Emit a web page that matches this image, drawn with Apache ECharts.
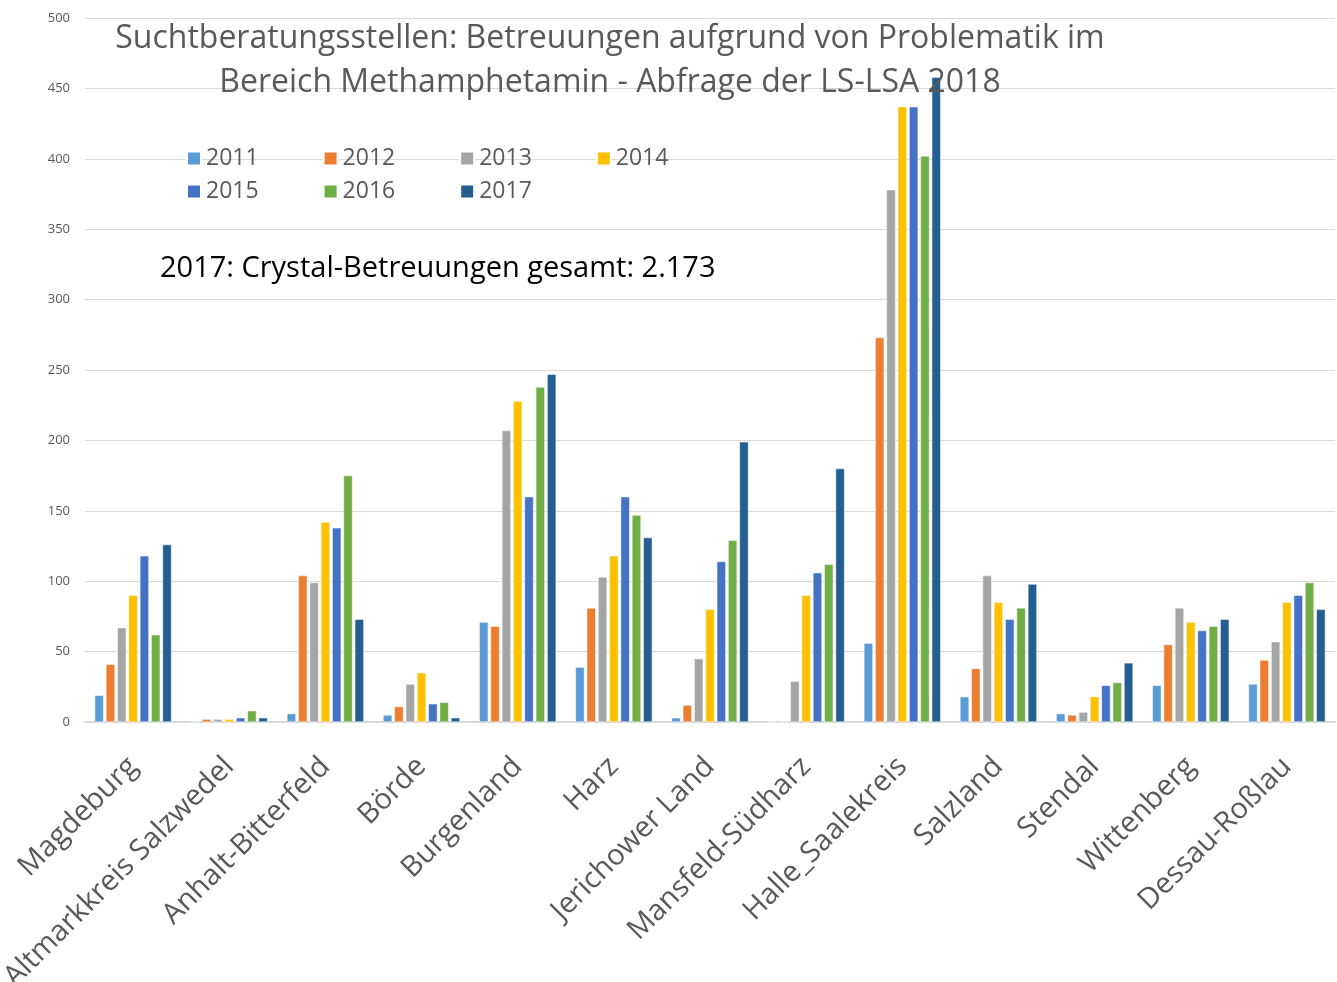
<!DOCTYPE html>
<html>
<head>
<meta charset="utf-8">
<script src="https://cdn.jsdelivr.net/npm/echarts@6/dist/echarts.min.js"></script>
<style>
  html, body { margin: 0; padding: 0; background: #fff; }
  #chart { width: 1337px; height: 982px; }
</style>
</head>
<body>
<div id="chart"></div>
<script>
// Landkreise / kreisfreie Städte
const regions = ['Magdeburg', 'Altmarkkreis Salzwedel', 'Anhalt-Bitterfeld', 'Börde', 'Burgenland', 'Harz',
  'Jerichower Land', 'Mansfeld-Südharz', 'Halle_Saalekreis', 'Salzland', 'Stendal', 'Wittenberg', 'Dessau-Roßlau']

const years = ['2011', '2012', '2013', '2014', '2015', '2016', '2017']

// Betreuungen je Jahr
const v2011 = [19, 0, 6, 5, 71, 39, 3, 0, 56, 18, 6, 26, 27]
const v2012 = [41, 2, 104, 11, 68, 81, 12, 0, 273, 38, 5, 55, 44]
const v2013 = [67, 2, 99, 27, 207, 103, 45, 29, 378, 104, 7, 81, 57]
const v2014 = [90, 2, 142, 35, 228, 118, 80, 90, 437, 85, 18, 71, 85]
const v2015 = [118, 3, 138, 13, 160, 160, 114, 106, 437, 73, 26, 65, 90]
const v2016 = [62, 8, 175, 14, 238, 147, 129, 112, 402, 81, 28, 68, 99]
const v2017 = [126, 3, 73, 3, 247, 131, 199, 180, 458, 98, 42, 73, 80]

const yTicks = [0, 500, 50]  // min, max, interval

const values = [v2011, v2012, v2013, v2014, v2015, v2016, v2017]
const colors = ['#5B9BD5', '#ED7D31', '#A5A5A5', '#FFC000', '#4472C4', '#70AD47', '#255E91']

const font = 'Open Sans'
const grey = '#595959'

let chart = echarts.init(document.getElementById('chart'))

let legendStyle = {
  left: 181,
  itemWidth: 14,
  itemHeight: 14,
  itemGap: 64,
  icon: 'rect',
  textStyle: { fontFamily: font, fontSize: 23, color: grey }
}

let option = {
  animation: false,
  color: colors,
  title: {
    text: 'Suchtberatungsstellen: Betreuungen aufgrund von Problematik im\nBereich Methamphetamin - Abfrage der LS-LSA 2018',
    left: 605,
    top: 12,
    textAlign: 'center',
    textStyle: {
      fontFamily: font,
      fontSize: 32,
      fontWeight: 'normal',
      color: grey,
      lineHeight: 44
    }
  },
  legend: [
    Object.assign({ data: years.slice(0, 4), top: 142 }, legendStyle),
    Object.assign({ data: years.slice(4), top: 175 }, legendStyle)
  ],
  graphic: [{
    type: 'text',
    left: 160,
    top: 254,
    style: {
      text: '2017: Crystal-Betreuungen gesamt: 2.173',
      fontFamily: font,
      fontSize: 29,
      fill: '#000'
    }
  }],
  grid: {
    left: 85,
    right: 2,
    top: 18,
    bottom: 260,
    outerBoundsMode: 'none'
  },
  xAxis: {
    type: 'category',
    data: regions,
    axisLine: { lineStyle: { color: '#D9D9D9', width: 2 } },
    axisTick: { show: false },
    axisLabel: {
      interval: 0,
      rotate: 45,
      margin: 40,
      fontFamily: font,
      fontSize: 29,
      color: grey
    }
  },
  yAxis: {
    type: 'value',
    min: yTicks[0],
    max: yTicks[1],
    interval: yTicks[2],
    axisLine: { show: false },
    axisTick: { show: false },
    axisLabel: { fontFamily: font, fontSize: 13, color: grey, margin: 15 },
    splitLine: { lineStyle: { color: '#D9D9D9', width: 1 } }
  },
  series: years.map((y, i) => ({
    name: y,
    type: 'bar',
    data: values[i],
    barGap: '25%',
    barCategoryGap: '20%',
    itemStyle: { borderColor: '#fff', borderWidth: 0.5 }
  }))
}

chart.setOption(option)
</script>
</body>
</html>
